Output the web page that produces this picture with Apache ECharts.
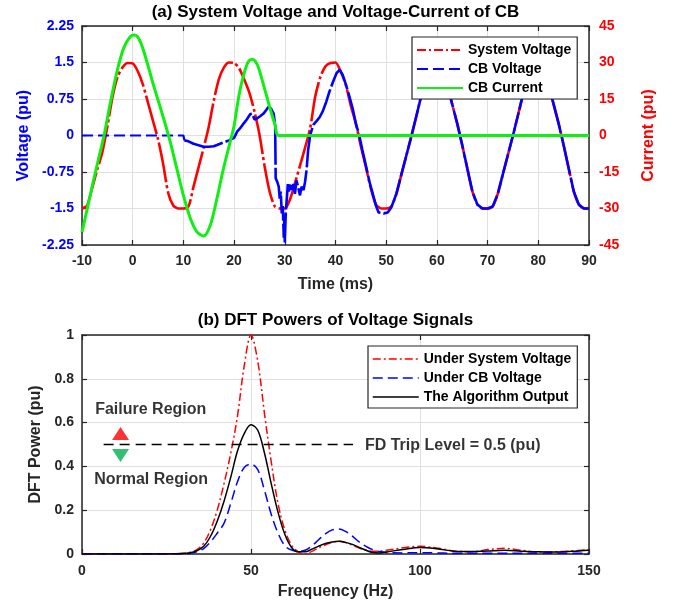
<!DOCTYPE html>
<html>
<head>
<meta charset="utf-8">
<script src="https://cdn.jsdelivr.net/npm/echarts@6/dist/echarts.min.js"></script>
<style>html,body{margin:0;padding:0;background:#fff;}#c{width:683px;height:606px;}</style>
</head>
<body>
<div id="c"></div>
<script>
// ---------- (a) time-domain data ----------
const sysVoltTime = [-10,-9,-8,-7,-6,-5,-4,-3,-2,-1,
  0,1,2,3,4,5,6,7,8,9,
  10,11,12,13,14,15,16,17,18,19,
  20,21,22,23,24,25,26,27,28,29,
  30,31,32,33,34,35,36,37,38,39,
  40,41,42,43,44,45,46,47,48,49,
  50,51,52,53,54,55,56,57,58,59,
  60,61,62,63,64,65,66,67,68,69,
  70,71,72,73,74,75,76,77,78,79,
  80,81,82,83,84,85,86,87,88,89,90];
const sysVoltage = [-1.50,-1.44,-1.08,-0.70,-0.35,0.18,0.78,1.20,1.40,1.49,
  1.48,1.32,1.05,0.68,0.30,-0.08,-0.58,-1.18,-1.44,-1.50,
  -1.50,-1.46,-1.05,-0.65,-0.25,0.18,0.72,1.16,1.40,1.50,
  1.49,1.38,1.15,0.88,0.50,0.02,-0.62,-1.15,-1.45,-1.50,
  -1.50,-1.32,-0.98,-0.62,-0.25,0.15,0.80,1.20,1.42,1.49,
  1.50,1.32,1.05,0.62,0.25,-0.22,-0.65,-1.10,-1.42,-1.50,
  -1.50,-1.46,-1.20,-0.80,-0.40,0.00,0.42,0.85,1.20,1.42,
  1.50,1.35,1.05,0.65,0.25,-0.20,-0.68,-1.15,-1.42,-1.50,
  -1.50,-1.46,-1.20,-0.80,-0.40,0.00,0.42,0.85,1.20,1.42,
  1.50,1.35,1.05,0.65,0.25,-0.20,-0.68,-1.15,-1.42,-1.50,-1.50];

// CB voltage: open-contact (dashed) part, then arcing / post-opening part
const cbVoltTimeA = [-10, 10, 10.2];
const cbVoltageA  = [0, 0, -0.10];
const cbVoltTimeB = [10.2,11,12,13,14,15,16,17,18,19,20,20.6,21.2,21.9,22.5,23.2,23.6,24,24.5,25.2,25.8,26.3,26.8,27.3,27.8,28.1,
  28.2,28.5,28.8,29.0,29.2,29.4,29.6,29.8,29.9,30.0,30.2,30.4,30.6,30.8,31.1,31.4,31.7,32.0,32.3,32.6,33.0,33.3,33.7,34.0,34.3,34.6,
  35.0,35.6,36.3,36.9,37.5,38.2,38.8,39.5,40.2,40.8,41.4,42.1,42.8,43.4,44,44.7,45.3,46,46.7,47.3,48,48.5,49.5,50.3,51,
  52,53,54,55,56,57,58,59,60,61,62,63,64,65,66,67,68,69,70,71,72,73,74,75,76,77,78,79,80,81,82,83,84,85,86,87,88,89,90];
const cbVoltageB  = [-0.10,-0.12,-0.17,-0.20,-0.23,-0.23,-0.22,-0.18,-0.14,-0.10,-0.05,0.08,0.15,0.25,0.33,0.44,0.45,0.33,0.35,0.40,0.45,0.52,0.59,0.55,0.45,0.21,
  -0.88,-0.95,-1.05,-1.30,-1.15,-1.60,-1.45,-2.10,-1.75,-2.20,-1.56,-1.30,-1.00,-1.15,-0.98,-1.12,-1.00,-1.20,-0.92,-1.05,-1.23,-1.05,-1.12,-0.95,-0.70,-0.30,
  0.00,0.22,0.30,0.38,0.50,0.70,0.90,1.10,1.28,1.35,1.25,1.03,0.78,0.55,0.25,0.00,-0.30,-0.62,-0.95,-1.18,-1.45,-1.58,-1.60,-1.58,-1.48,
  -1.20,-0.80,-0.40,0.00,0.42,0.85,1.20,1.42,1.50,1.35,1.05,0.65,0.25,-0.20,-0.68,-1.15,-1.42,-1.50,-1.50,-1.46,-1.20,-0.80,-0.40,0.00,0.42,0.85,1.20,1.42,
  1.50,1.35,1.05,0.65,0.25,-0.20,-0.68,-1.15,-1.42,-1.50,-1.50];

const cbCurrentTime = [-10,-9.1,-7.8,-6.4,-5.5,-4.5,-3.1,-1.8,-0.5,0.4,1.5,2.8,4.1,6.1,7.4,8.7,10,11.4,12.7,14,15.3,16.6,17.9,19.3,20,20.6,21.2,21.9,22.5,23,23.6,24.2,24.8,25.8,27.1,28.1,28.8,90];
const cbCurrent     = [-39.7,-31.4,-19,-6.7,1.5,12.5,26.2,35.8,40.6,41.3,38.6,30.3,20.7,7,-2.6,-13.6,-24.6,-34.2,-39.7,-41.3,-36.9,-26,-13.6,-2,4,12,19,25,29,30.8,31.3,30.5,28,20.8,11.1,4.2,0,0];

const timeTicks = {min: -10, max: 90, interval: 10};
const voltTicks = {min: -2.25, max: 2.25, interval: 0.75};
const currTicks = {min: -45, max: 45, interval: 15};

// ---------- (b) DFT data ----------
const freq = [0,5,10,15,20,25,30,32,34,36,38,40,42,44,46,48,50,52,54,56,58,60,62,64,66,68,70,72,74,76,78,80,82,84,86,88,90,95,100,105,110,115,120,125,130,135,140,145,150];
const dftSystem = [0,0,0,0,0,0,0.003,0.008,0.02,0.05,0.11,0.20,0.32,0.46,0.63,0.86,1.00,0.88,0.64,0.42,0.23,0.11,0.04,0.01,0.0,0.012,0.028,0.042,0.054,0.058,0.052,0.040,0.027,0.018,0.013,0.013,0.017,0.028,0.035,0.027,0.014,0.010,0.020,0.026,0.017,0.009,0.010,0.014,0.020];
const dftCB     = [0,0,0,0,0,0,0,0.003,0.01,0.025,0.055,0.095,0.14,0.23,0.33,0.395,0.41,0.385,0.29,0.18,0.095,0.038,0.018,0.012,0.017,0.037,0.065,0.092,0.11,0.114,0.103,0.082,0.055,0.035,0.02,0.011,0.007,0.005,0.006,0.005,0.003,0.003,0.003,0.003,0.003,0.003,0.003,0.003,0.003];
const dftAlgo   = [0,0,0,0,0,0,0.002,0.006,0.015,0.035,0.08,0.15,0.24,0.35,0.47,0.55,0.59,0.565,0.46,0.32,0.19,0.09,0.03,0.01,0.01,0.022,0.036,0.048,0.055,0.058,0.053,0.044,0.03,0.017,0.007,0.005,0.009,0.021,0.03,0.024,0.013,0.011,0.014,0.017,0.013,0.01,0.009,0.012,0.017];
const tripFreq  = [6.4, 80.2];
const tripLevel = [0.5, 0.5];
const arrowFreq  = [11.4, 11.4];
const arrowPower = [0.55, 0.45];
const noteText  = ['Failure Region', 'Normal Region', 'FD Trip Level = 0.5 (pu)'];
const noteFreq  = [3.9, 3.6, 83.7];
const notePower = [0.66, 0.34, 0.497];
const freqTicks  = {min: 0, max: 150, interval: 50};
const powerTicks = {min: 0, max: 1, interval: 0.2};

const zip = (xs, ys) => xs.map((x, i) => [x, ys[i]]);

// ---------- styling ----------
const FONT = 'Liberation Sans, Arial, sans-serif';
const AX = '#262626';
const GRIDC = '#e0e0e0';
const axisLine = {show: true, onZero: false, lineStyle: {color: AX, width: 1.5}};
const axisTick = {show: true, inside: true, length: 5, lineStyle: {color: AX, width: 1.2}};
const label = (c) => ({show: true, color: c, fontFamily: FONT, fontWeight: 'bold', fontSize: 14});
const split = {show: true, lineStyle: {color: GRIDC, width: 1}};
const noSymbol = {color: 'rgba(0,0,0,0)', borderColor: 'rgba(0,0,0,0)', borderWidth: 0};

const chart = echarts.init(document.getElementById('c'), null, {renderer: 'canvas'});
chart.setOption({
  animation: false,
  backgroundColor: '#fff',
  graphic: [
    {type: 'text', x: 335.5, y: 12, style: {text: '(a) System Voltage and Voltage-Current of CB', fill: '#000', font: 'bold 17px ' + FONT, align: 'center', verticalAlign: 'middle'}},
    {type: 'text', x: 335.5, y: 320, style: {text: '(b) DFT Powers of Voltage Signals', fill: '#000', font: 'bold 17px ' + FONT, align: 'center', verticalAlign: 'middle'}}
  ],
  grid: [
    {left: 82, right: 94, top: 26, height: 219},
    {left: 82, right: 94, top: 335, height: 219}
  ],
  xAxis: [
    {type: 'value', gridIndex: 0, position: 'bottom', ...timeTicks, axisLine, axisTick,
     axisLabel: {...label(AX), margin: 9}, splitLine: split,
     name: 'Time (ms)', nameLocation: 'middle', nameGap: 32,
     nameTextStyle: {color: AX, fontFamily: FONT, fontWeight: 'bold', fontSize: 16}},
    {type: 'value', gridIndex: 0, position: 'top', ...timeTicks, axisLine, axisTick,
     axisLabel: {show: false}, splitLine: {show: false}},
    {type: 'value', gridIndex: 1, position: 'bottom', ...freqTicks, axisLine, axisTick,
     axisLabel: {...label(AX), margin: 10}, splitLine: split,
     name: 'Frequency (Hz)', nameLocation: 'middle', nameGap: 30,
     nameTextStyle: {color: AX, fontFamily: FONT, fontWeight: 'bold', fontSize: 16}},
    {type: 'value', gridIndex: 1, position: 'top', ...freqTicks, axisLine, axisTick,
     axisLabel: {show: false}, splitLine: {show: false}}
  ],
  yAxis: [
    {type: 'value', gridIndex: 0, position: 'left', ...voltTicks, axisLine, axisTick,
     axisLabel: {...label('#0000ff'), margin: 8}, splitLine: split,
     name: 'Voltage (pu)', nameLocation: 'middle', nameGap: 50, nameRotate: 90,
     nameTextStyle: {color: '#0000ff', fontFamily: FONT, fontWeight: 'bold', fontSize: 16}},
    {type: 'value', gridIndex: 0, position: 'right', ...currTicks, axisLine, axisTick,
     axisLabel: {...label('#ff0000'), margin: 10}, splitLine: {show: false},
     name: 'Current (pu)', nameLocation: 'middle', nameGap: 52, nameRotate: 90,
     nameTextStyle: {color: '#ff0000', fontFamily: FONT, fontWeight: 'bold', fontSize: 16}},
    {type: 'value', gridIndex: 1, position: 'left', ...powerTicks, axisLine, axisTick,
     axisLabel: {...label(AX), margin: 8}, splitLine: split,
     name: 'DFT Power (pu)', nameLocation: 'middle', nameGap: 33, nameRotate: 90,
     nameTextStyle: {color: AX, fontFamily: FONT, fontWeight: 'bold', fontSize: 16}},
    {type: 'value', gridIndex: 1, position: 'right', ...powerTicks, axisLine, axisTick,
     axisLabel: {show: false}, splitLine: {show: false}}
  ],
  legend: [
    {orient: 'vertical', left: 412, top: 37, padding: [6, 6, 4, 4], itemGap: 5,
     itemWidth: 46, itemHeight: 14, backgroundColor: '#fff', borderColor: AX, borderWidth: 1.2,
     itemStyle: noSymbol,
     textStyle: {color: '#000', fontFamily: FONT, fontWeight: 'bold', fontSize: 14, lineHeight: 14},
     data: [
       {name: 'System Voltage', itemStyle: noSymbol, lineStyle: {type: [9, 3, 2, 3], width: 2}},
       {name: 'CB Voltage', itemStyle: noSymbol, lineStyle: {type: [11, 5], width: 2}},
       {name: 'CB Current', itemStyle: noSymbol, lineStyle: {type: 'solid', width: 2}}
     ]},
    {orient: 'vertical', left: 368, top: 346, padding: [6, 6, 4, 4], itemGap: 5,
     itemWidth: 46, itemHeight: 14, backgroundColor: '#fff', borderColor: AX, borderWidth: 1.2,
     itemStyle: noSymbol,
     textStyle: {color: '#000', fontFamily: FONT, fontWeight: 'bold', fontSize: 14, lineHeight: 14},
     data: [
       {name: 'Under System Voltage', itemStyle: noSymbol, lineStyle: {width: 1.5}},
       {name: 'Under CB Voltage', itemStyle: noSymbol, lineStyle: {width: 1.5}},
       {name: 'The Algorithm Output', itemStyle: noSymbol, lineStyle: {width: 1.5}}
     ]}
  ],
  series: [
    {name: 'System Voltage', type: 'line', xAxisIndex: 0, yAxisIndex: 0, symbol: 'none', smooth: 0.25,
     data: zip(sysVoltTime, sysVoltage), lineStyle: {color: '#ff0000', width: 2.6, type: [40, 3, 3, 3]}, itemStyle: {color: '#ff0000'}},
    {name: 'CB Voltage', type: 'line', xAxisIndex: 0, yAxisIndex: 0, symbol: 'none',
     data: zip(cbVoltTimeA, cbVoltageA), lineStyle: {color: '#0000ff', width: 2.2, type: [11, 5]}, itemStyle: {color: '#0000ff'}},
    {name: 'CB Voltage', type: 'line', xAxisIndex: 0, yAxisIndex: 0, symbol: 'none',
     data: zip(cbVoltTimeB, cbVoltageB), lineStyle: {color: '#0000ff', width: 2.6, type: [40, 3]}, itemStyle: {color: '#0000ff'}},
    {name: 'CB Current', type: 'line', xAxisIndex: 0, yAxisIndex: 1, symbol: 'none', smooth: 0.3,
     data: zip(cbCurrentTime, cbCurrent), lineStyle: {color: '#11ee11', width: 3}, itemStyle: {color: '#11ee11'}},

    {name: 'Under System Voltage', type: 'line', xAxisIndex: 2, yAxisIndex: 2, symbol: 'none', smooth: 0.35,
     data: zip(freq, dftSystem), lineStyle: {color: '#ff0000', width: 1.5, type: [8, 3, 2, 3]}, itemStyle: {color: '#ff0000'}},
    {name: 'Under CB Voltage', type: 'line', xAxisIndex: 2, yAxisIndex: 2, symbol: 'none', smooth: 0.35,
     data: zip(freq, dftCB), lineStyle: {color: '#0000ff', width: 1.5, type: [10, 5]}, itemStyle: {color: '#0000ff'}},
    {name: 'The Algorithm Output', type: 'line', xAxisIndex: 2, yAxisIndex: 2, symbol: 'none', smooth: 0.35,
     data: zip(freq, dftAlgo), lineStyle: {color: '#000000', width: 1.5}, itemStyle: {color: '#000000'}},
    {name: 'trip', type: 'line', xAxisIndex: 2, yAxisIndex: 2, symbol: 'none',
     data: zip(tripFreq, tripLevel), lineStyle: {color: '#000000', width: 1.5, type: [10, 6]}},
    {name: 'arrows', type: 'scatter', xAxisIndex: 2, yAxisIndex: 2, symbol: 'triangle', symbolSize: [17, 13],
     data: [
       {value: [arrowFreq[0], arrowPower[0]], itemStyle: {color: '#ff0000'}},
       {value: [arrowFreq[1], arrowPower[1]], symbolRotate: 180, itemStyle: {color: '#00b050'}}
     ]},
    {name: 'notes', type: 'scatter', xAxisIndex: 2, yAxisIndex: 2, symbolSize: 0,
     label: {show: true, position: [0, 0], align: 'left', verticalAlign: 'middle',
             formatter: (p) => p.name, color: '#000', fontFamily: FONT, fontWeight: 'bold', fontSize: 16},
     data: noteText.map((t, i) => ({name: t, value: [noteFreq[i], notePower[i]]}))}
  ]
});
</script>
</body>
</html>
